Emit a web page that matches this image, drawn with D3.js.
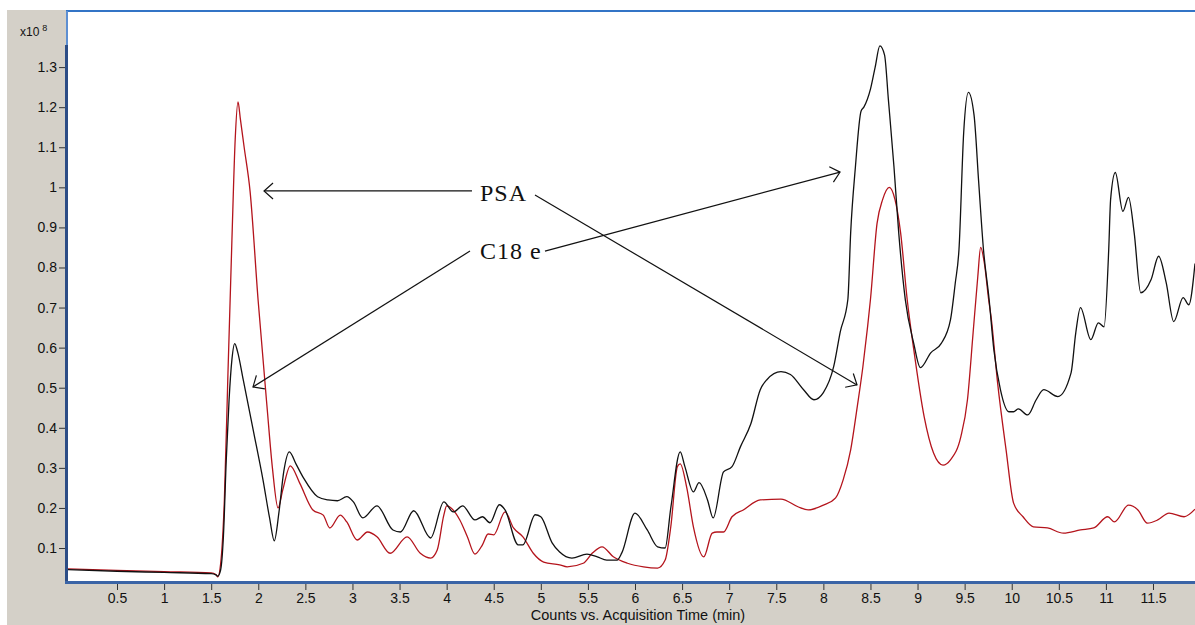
<!DOCTYPE html>
<html><head><meta charset="utf-8">
<script src="https://cdn.jsdelivr.net/npm/d3@7"></script>
<style>html,body{margin:0;padding:0;background:#fff;overflow:hidden}svg{display:block}</style>
</head><body>
<svg id="chart" width="1195" height="625"></svg>
<script>
// ---- data (time in min, counts in x10^8) ----
const c18e = [[-0.031,0.046],[0.5,0.042],[1.0,0.039],[1.5,0.036],[1.55,0.033],[1.57,0.030],[1.6,0.045],[1.63,0.13],[1.66,0.32],[1.69,0.47],[1.72,0.57],[1.75,0.61],[1.78,0.59],[1.84,0.52],[1.95,0.39],[2.05,0.27],[2.12,0.175],[2.17,0.118],[2.22,0.19],[2.27,0.29],[2.33,0.34],[2.4,0.31],[2.48,0.275],[2.63,0.228],[2.74,0.22],[2.84,0.218],[2.94,0.228],[3.01,0.215],[3.11,0.175],[3.26,0.205],[3.43,0.145],[3.51,0.14],[3.65,0.193],[3.83,0.125],[3.97,0.215],[4.07,0.19],[4.17,0.205],[4.30,0.17],[4.38,0.178],[4.46,0.163],[4.56,0.208],[4.62,0.195],[4.76,0.108],[4.81,0.108],[4.94,0.183],[5.0,0.178],[5.12,0.113],[5.2,0.09],[5.33,0.075],[5.49,0.085],[5.6,0.078],[5.7,0.07],[5.81,0.07],[5.86,0.088],[6.0,0.187],[6.13,0.145],[6.24,0.103],[6.32,0.10],[6.38,0.20],[6.48,0.34],[6.53,0.303],[6.62,0.24],[6.68,0.263],[6.77,0.22],[6.83,0.175],[6.94,0.29],[7.03,0.303],[7.12,0.353],[7.23,0.41],[7.33,0.495],[7.4,0.52],[7.55,0.54],[7.65,0.533],[7.79,0.495],[7.9,0.47],[8.0,0.488],[8.11,0.553],[8.18,0.64],[8.26,0.72],[8.29,0.887],[8.34,1.05],[8.4,1.19],[8.43,1.2],[8.5,1.245],[8.55,1.30],[8.6,1.353],[8.65,1.33],[8.69,1.22],[8.75,1.05],[8.8,0.887],[8.87,0.72],[8.96,0.61],[9.03,0.55],[9.14,0.587],[9.25,0.61],[9.35,0.67],[9.4,0.76],[9.44,0.845],[9.49,1.137],[9.54,1.237],[9.6,1.18],[9.65,1.01],[9.7,0.845],[9.76,0.72],[9.81,0.595],[9.88,0.495],[9.97,0.44],[10.02,0.44],[10.07,0.447],[10.17,0.432],[10.26,0.47],[10.34,0.495],[10.49,0.478],[10.63,0.537],[10.68,0.637],[10.73,0.70],[10.84,0.62],[10.92,0.662],[10.98,0.652],[11.03,0.845],[11.05,0.97],[11.1,1.037],[11.18,0.94],[11.24,0.975],[11.3,0.887],[11.37,0.737],[11.48,0.77],[11.56,0.828],[11.64,0.762],[11.72,0.665],[11.82,0.725],[11.88,0.707],[11.946,0.81]];

const psa = [[-0.031,0.048],[0.5,0.044],[1.0,0.041],[1.5,0.038],[1.55,0.034],[1.57,0.028],[1.6,0.06],[1.64,0.22],[1.678,0.536],[1.72,0.868],[1.755,1.12],[1.785,1.213],[1.81,1.17],[1.85,1.1],[1.913,0.99],[1.998,0.719],[2.093,0.452],[2.15,0.30],[2.21,0.20],[2.26,0.245],[2.34,0.305],[2.44,0.262],[2.58,0.195],[2.69,0.182],[2.76,0.15],[2.87,0.182],[2.94,0.165],[3.05,0.12],[3.16,0.14],[3.26,0.128],[3.4,0.087],[3.58,0.128],[3.72,0.087],[3.83,0.075],[3.9,0.095],[3.97,0.182],[4.0,0.205],[4.14,0.17],[4.22,0.128],[4.3,0.085],[4.38,0.108],[4.44,0.135],[4.5,0.133],[4.62,0.19],[4.71,0.15],[4.81,0.128],[4.92,0.087],[5.03,0.065],[5.2,0.058],[5.28,0.053],[5.45,0.062],[5.55,0.088],[5.65,0.103],[5.77,0.078],[5.92,0.062],[6.09,0.053],[6.24,0.05],[6.32,0.07],[6.38,0.153],[6.45,0.303],[6.48,0.31],[6.55,0.25],[6.62,0.153],[6.73,0.078],[6.82,0.137],[6.87,0.14],[6.94,0.14],[7.03,0.178],[7.15,0.195],[7.33,0.22],[7.55,0.222],[7.73,0.203],[7.84,0.195],[8.0,0.207],[8.13,0.225],[8.21,0.27],[8.29,0.345],[8.36,0.453],[8.42,0.553],[8.47,0.653],[8.5,0.72],[8.57,0.91],[8.63,0.97],[8.7,1.0],[8.76,0.97],[8.82,0.887],[8.89,0.72],[8.96,0.595],[9.07,0.428],[9.17,0.337],[9.27,0.307],[9.35,0.32],[9.46,0.378],[9.53,0.47],[9.59,0.637],[9.64,0.778],[9.67,0.85],[9.71,0.81],[9.755,0.72],[9.78,0.678],[9.85,0.512],[9.94,0.345],[10.02,0.212],[10.12,0.178],[10.23,0.153],[10.38,0.15],[10.55,0.137],[10.73,0.145],[10.87,0.15],[11.02,0.178],[11.09,0.165],[11.24,0.207],[11.34,0.195],[11.44,0.162],[11.55,0.17],[11.67,0.187],[11.83,0.178],[11.946,0.197]];

const xTicks = [0.5,1,1.5,2,2.5,3,3.5,4,4.5,5,5.5,6,6.5,7,7.5,8,8.5,9,9.5,10,10.5,11,11.5];
const yTicks = [0.1,0.2,0.3,0.4,0.5,0.6,0.7,0.8,0.9,1,1.1,1.2,1.3];
const xTitle = "Counts vs. Acquisition Time (min)";
const yExponent = "8";

// annotation labels and arrows (data coordinates: time, counts)
const annoLabels = [{text:"PSA", t:4.354, v:0.966}, {text:"C18 e", t:4.354, v:0.821}];
const annoArrows = [
  {from:[4.269,0.991], to:[2.061,0.991]},
  {from:[4.938,0.981], to:[8.357,0.507]},
  {from:[4.248,0.841], to:[1.944,0.502]},
  {from:[5.044,0.841], to:[8.177,1.038]}
];

// ---- layout ----
const svg = d3.select("#chart");
const L = 67, R = 1195, T = 11, B = 582;
const x = d3.scaleLinear().domain([-0.031, 11.946]).range([L, R]);
const y = d3.scaleLinear().domain([0.0152, 1.44]).range([B, T]);

const gray = "#d4d0c8";
svg.append("rect").attr("x",0).attr("y",0).attr("width",1195).attr("height",625).attr("fill","#fff");
svg.append("rect").attr("x",7).attr("y",10).attr("width",1188).attr("height",615).attr("fill",gray);
svg.append("rect").attr("x",L-1).attr("y",T).attr("width",R-L+1).attr("height",B-T).attr("fill","#fff");

const defs = svg.append("defs");
defs.append("clipPath").attr("id","clip").append("rect")
  .attr("x",L+1).attr("y",T).attr("width",R-L).attr("height",B-T);
defs.append("marker").attr("id","arr").attr("viewBox","-12 -10 14 20")
  .attr("refX",0).attr("refY",0).attr("markerWidth",14).attr("markerHeight",20)
  .attr("markerUnits","userSpaceOnUse").attr("orient","auto")
  .append("path").attr("d","M-9,-8L0,0L-9,8").attr("fill","none").attr("stroke","#111").attr("stroke-width",1.2);

// ---- axes ----
const font = "'Liberation Sans', Arial, sans-serif";
const yAxis = d3.axisLeft(y).tickValues(yTicks).tickSize(7).tickPadding(2).tickFormat(d => String(+d.toFixed(1)));
const gy = svg.append("g").attr("transform",`translate(${L-1},0)`).call(yAxis);
gy.select(".domain").remove();
gy.selectAll("line").attr("stroke","#333");
gy.selectAll("text").attr("font-family",font).attr("font-size",14).attr("fill","#111");

const xAxis = d3.axisBottom(x).tickValues(xTicks).tickSize(7).tickPadding(3).tickFormat(d => String(+d.toFixed(1)));
const gx = svg.append("g").attr("transform",`translate(0,${B+1})`).call(xAxis);
gx.select(".domain").remove();
gx.selectAll("line").attr("stroke","#333");
gx.selectAll("text").attr("font-family",font).attr("font-size",14).attr("fill","#111");

svg.append("text").attr("x",638).attr("y",620).attr("text-anchor","middle")
  .attr("font-family",font).attr("font-size",14.5).attr("fill","#111").text(xTitle);

const ex = svg.append("text").attr("x",20).attr("y",36).attr("font-family",font).attr("font-size",12).attr("fill","#111");
ex.append("tspan").text("x10");
ex.append("tspan").attr("dx",3).attr("dy",-5).attr("font-size",9).text(yExponent);

// ---- borders ----
svg.append("line").attr("x1",L-1).attr("x2",R).attr("y1",T).attr("y2",T).attr("stroke","#3274c6").attr("stroke-width",2);
svg.append("line").attr("x1",L).attr("x2",L).attr("y1",T).attr("y2",B+2).attr("stroke","#5d8fd2").attr("stroke-width",2);
svg.append("line").attr("x1",L-0.5).attr("x2",L-0.5).attr("y1",45).attr("y2",B+2).attr("stroke","#2c4d86").attr("stroke-width",3);
svg.append("line").attr("x1",L-2).attr("x2",R).attr("y1",B+0.5).attr("y2",B+0.5).attr("stroke","#3a64a6").attr("stroke-width",3);

// ---- series ----
const line = d3.line().x(d => x(d[0])).y(d => y(d[1])).curve(d3.curveMonotoneX);
const plot = svg.append("g").attr("clip-path","url(#clip)");
plot.append("path").datum(psa).attr("d",line).attr("fill","none").attr("stroke","#b4141c").attr("stroke-width",1.3).attr("stroke-linejoin","round");
plot.append("path").datum(c18e).attr("d",line).attr("fill","none").attr("stroke","#111").attr("stroke-width",1.3).attr("stroke-linejoin","round");

// ---- annotations ----
annoArrows.forEach(a => {
  svg.append("line").attr("x1",x(a.from[0])).attr("y1",y(a.from[1]))
    .attr("x2",x(a.to[0])).attr("y2",y(a.to[1]))
    .attr("stroke","#111").attr("stroke-width",1.2).attr("marker-end","url(#arr)");
});
annoLabels.forEach(l => {
  svg.append("text").attr("x",x(l.t)).attr("y",y(l.v))
    .attr("font-family","'Liberation Serif','Times New Roman',serif").attr("font-size",24)
    .attr("letter-spacing",1).attr("fill","#111").text(l.text);
});
</script>
</body></html>
